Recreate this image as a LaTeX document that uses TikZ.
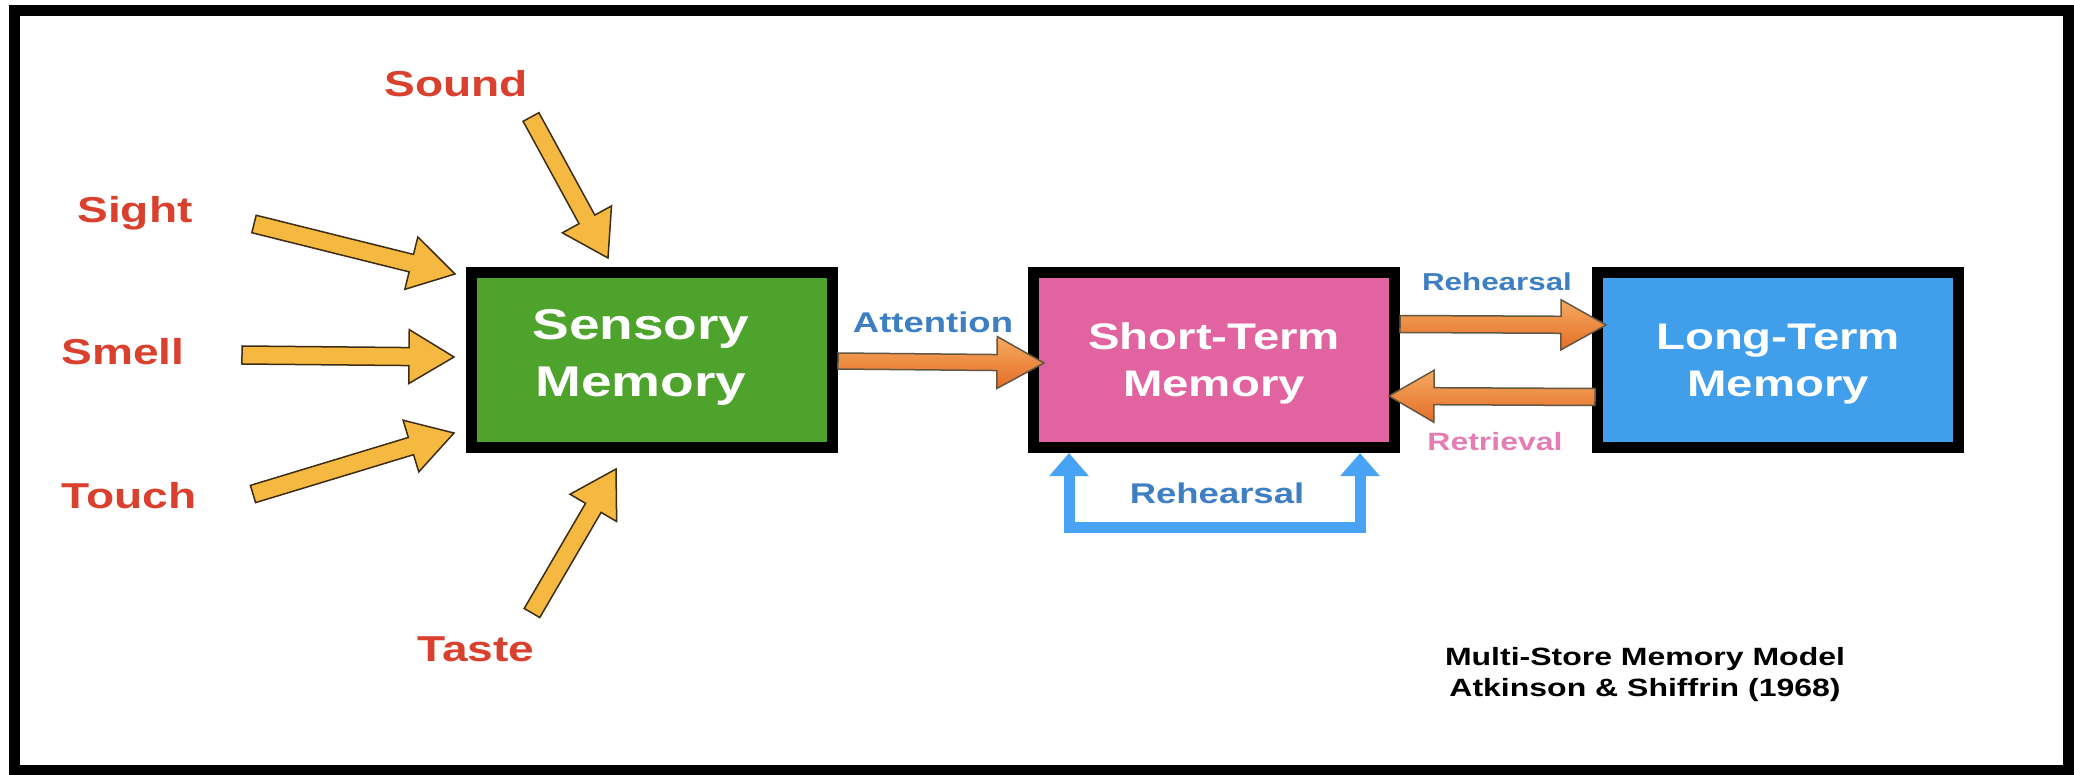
\documentclass[tikz,border=0pt]{standalone}
\usepackage{fontspec}
\setmainfont{Liberation Sans}[FakeStretch=1.28]
\usetikzlibrary{calc,arrows.meta}
\definecolor{smgreen}{RGB}{77,163,44}
\definecolor{stmpink}{RGB}{225,100,160}
\definecolor{ltmblue}{RGB}{64,158,235}
\definecolor{sensered}{RGB}{217,65,46}
\definecolor{lblblue}{RGB}{62,127,196}
\definecolor{lblpink}{RGB}{229,125,181}
\definecolor{yelfill}{RGB}{245,185,66}
\definecolor{yeledge}{RGB}{60,45,20}
\definecolor{orgtop}{RGB}{246,170,95}
\definecolor{orgbot}{RGB}{228,110,40}
\definecolor{loopblue}{RGB}{72,163,245}
% fat polygon arrow: #1 style, #2 tail, #3 tip, #4 half shaft, #5 half head, #6 head length
\newcommand\fatarrow[6]{%
  \path (#2) coordinate (faA) (#3) coordinate (faB);
  \path ($(faB)!#6!(faA)$) coordinate (faC);
  \path[#1] ($(faA)!#4!90:(faB)$) -- ($(faC)!#4!-90:(faA)$) -- ($(faC)!#5!-90:(faA)$)
    -- (faB) -- ($(faC)!#5!90:(faA)$) -- ($(faC)!#4!90:(faA)$) -- ($(faA)!#4!-90:(faB)$) -- cycle;
}
\tikzset{
  membox/.style={draw=black, line width=11pt, minimum width=361pt, minimum height=175pt,
    inner sep=0pt, text=white, font=\fontsize{37}{47}\selectfont\bfseries, align=center, text depth=0pt},
  sense/.style={text=sensered, font=\fontsize{36}{40}\selectfont\bfseries, inner sep=0pt,
    text height=26pt, text depth=0pt},
  flowlbl/.style={inner sep=0pt, text depth=0pt},
  yelarrow/.style={fill=yelfill, draw=yeledge, line width=1.5pt, line join=miter},
  orgarrow/.style={top color=orgtop, bottom color=orgbot, draw=yeledge!80, line width=1.5pt, line join=miter},
  looparrow/.style={draw=loopblue, line width=11pt, line join=miter,
    {Triangle[length=23pt,width=38pt]}-{Triangle[length=23pt,width=38pt]}},
  captext/.style={font=\fontsize{25}{31}\selectfont\bfseries, align=center, inner sep=0pt}
}
\begin{document}
\begin{tikzpicture}[x=1pt,y=-1pt]
\useasboundingbox (0,0) rectangle (2074,775);
\fill[white] (0,0) rectangle (2074,775);
\draw[line width=11pt] (14.5,10.5) rectangle (2068.5,770.5);

% memory stores
\node[membox, fill=smgreen, font=\fontsize{43}{57}\selectfont\bfseries, text depth=14pt] (sm) at (652,360) {Sensory\hspace*{22pt}\\Memory\hspace*{22pt}};
\node[membox, fill=stmpink] (stm) at (1214,360) {Short-Term\\Memory};
\node[membox, fill=ltmblue] (ltm) at (1778,360) {Long-Term\\Memory};

% senses
\node[sense] (sound) at (456,84) {Sound};
\node[sense] (sight) at (135,210) {Sight};
\node[sense] (smell) at (123,352) {Smell};
\node[sense] (touch) at (129,495) {Touch};
\node[sense] (taste) at (476,648) {Taste};

\coordinate (soundA) at (531,117);
\coordinate (sightA) at (254,224);
\coordinate (smellA) at (242,355);
\coordinate (touchA) at (253,494);
\coordinate (tasteA) at (532,613);
\coordinate (soundB) at ($(sm.north west)+(142,-9)$);
\coordinate (sightB) at ($(sm.north west)+(-11,7)$);
\coordinate (smellB) at ($(sm.west)+(-12,-3)$);
\coordinate (touchB) at ($(sm.south west)+(-12,-20)$);
\coordinate (tasteB) at ($(sm.south west)+(150,16)$);

\fatarrow{yelarrow}{soundA}{soundB}{9pt}{28pt}{44pt}
\fatarrow{yelarrow}{sightA}{sightB}{9pt}{27pt}{45pt}
\fatarrow{yelarrow}{smellA}{smellB}{9pt}{27pt}{45pt}
\fatarrow{yelarrow}{touchA}{touchB}{9pt}{27pt}{45pt}
\fatarrow{yelarrow}{tasteA}{tasteB}{9pt}{27pt}{45pt}

% flows between stores
\coordinate (attA) at ($(sm.east)+(0,1)$);
\coordinate (attB) at ($(stm.west)+(16,3)$);
\fatarrow{orgarrow}{attA}{attB}{8pt}{26pt}{47pt}
\coordinate (rehA) at ($(stm.east)+(0,-36)$);
\coordinate (rehB) at ($(ltm.west)+(14,-35)$);
\fatarrow{orgarrow}{rehA}{rehB}{8.5pt}{25pt}{45pt}
\coordinate (retA) at ($(ltm.west)+(3,37)$);
\coordinate (retB) at ($(stm.east)+(-11,36)$);
\fatarrow{orgarrow}{retA}{retB}{8.5pt}{26pt}{45pt}

\node[flowlbl, text=lblblue, font=\fontsize{28.5}{32}\selectfont\bfseries] (attl) at (933,322) {Attention};
\node[flowlbl, text=lblblue, font=\fontsize{24.5}{28}\selectfont\bfseries] (rehl) at (1497,282) {Rehearsal};
\node[flowlbl, text=lblpink, font=\fontsize{25}{28}\selectfont\bfseries] (retl) at (1495,441) {Retrieval};

% maintenance rehearsal loop
\draw[looparrow] ($(stm.south west)+(41,0)$) -- ++(0,74) -| ($(stm.south east)+(-40,0)$);
\node[flowlbl, text=lblblue, font=\fontsize{28.5}{32}\selectfont\bfseries] (loopl) at (1217,493) {Rehearsal};

% caption
\node[captext] (cap) at (1645,675) {Multi-Store Memory Model\\Atkinson \& Shiffrin (1968)};
\end{tikzpicture}
\end{document}
